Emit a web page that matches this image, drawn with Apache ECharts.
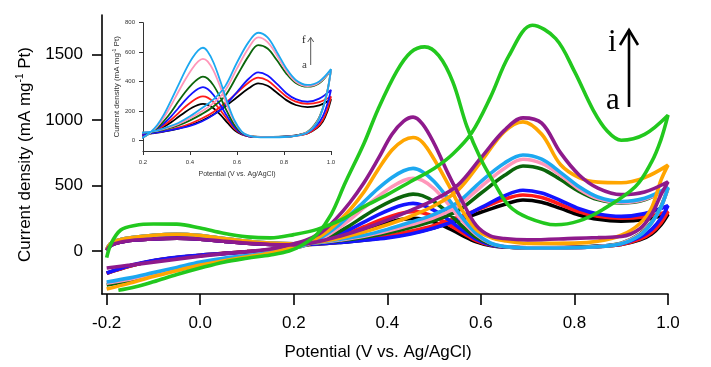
<!DOCTYPE html>
<html>
<head>
<meta charset="utf-8">
<script src="https://cdn.jsdelivr.net/npm/echarts@6/dist/echarts.min.js"></script>
<style>
html,body{margin:0;padding:0;background:#fff;}
#chart{width:711px;height:367px;}
</style>
</head>
<body>
<div id="chart"></div>
<script>
// ---- tick labels ----
const mainXTicks = [-0.2, 0, 0.2, 0.4, 0.6, 0.8, 1.0];
const mainYTicks = [0, 500, 1000, 1500];
const insetXTicks = [0.2, 0.4, 0.6, 0.8, 1.0];
const insetYTicks = [0, 200, 400, 600, 800];

// ---- curve labels and colours ----
const curveNames = ['a', 'b', 'c', 'd', 'e', 'f', 'g', 'h', 'i'];
const curveColors = ['#000000', '#ff1a1a', '#1414ff', '#0b650b', '#ff96b9', '#1ca8f0', '#ffa500', '#8e1a8c', '#22c81e'];

// ---- shared potential grids (V vs. Ag/AgCl) for curves a-h ----
const potF = [-0.2, -0.19, -0.16, -0.1, -0.05, 0, 0.05, 0.1, 0.15, 0.2, 0.25, 0.3, 0.35, 0.4, 0.45, 0.5, 0.55, 0.6, 0.65, 0.69, 0.73, 0.77, 0.81, 0.85, 0.9, 0.95, 1.0];
const potB = [0.985, 0.965, 0.94, 0.9, 0.85, 0.8, 0.7, 0.65, 0.62, 0.59, 0.56, 0.53, 0.5, 0.475, 0.455, 0.435, 0.41, 0.38, 0.35, 0.32, 0.29, 0.26, 0.23, 0.2, 0.15, 0.1, 0.05, 0, -0.05, -0.1, -0.15, -0.2];

// ---- forward scan current densities (mA mg-1 Pt) ----
const aF = [5, 45, 75, 92, 98, 90, 74, 60, 50, 47, 52, 65, 82, 105, 135, 178, 232, 295, 355, 389, 372, 325, 275, 242, 228, 240, 280];
const bF = [5, 45, 75, 92, 98, 90, 74, 60, 50, 47, 54, 68, 88, 115, 150, 195, 255, 325, 395, 427, 408, 355, 300, 265, 250, 262, 300];
const cF = [5, 45, 75, 92, 98, 90, 74, 60, 50, 47, 53, 66, 82, 100, 130, 175, 240, 330, 420, 463, 442, 385, 322, 282, 264, 285, 345];
const dF = [10, 60, 95, 120, 128, 118, 95, 75, 60, 55, 62, 80, 104, 138, 180, 232, 305, 440, 575, 648, 625, 545, 455, 392, 366, 390, 480];
const eF = [10, 60, 95, 120, 128, 118, 95, 75, 60, 55, 64, 85, 112, 152, 200, 255, 340, 490, 630, 700, 668, 578, 472, 400, 370, 395, 480];
const fF = [10, 60, 95, 120, 128, 118, 95, 75, 60, 55, 66, 90, 120, 165, 220, 280, 370, 530, 670, 732, 700, 600, 490, 412, 378, 402, 485];
const gF = [10, 60, 95, 120, 128, 118, 95, 75, 60, 55, 68, 100, 145, 200, 265, 345, 460, 680, 910, 985, 890, 660, 560, 525, 520, 560, 655];
const hF = [5, 45, 75, 92, 98, 90, 74, 60, 50, 47, 70, 115, 170, 235, 310, 390, 500, 710, 920, 1015, 975, 750, 580, 480, 430, 450, 528];

// ---- backward scan current densities ----
const aB = [200, 130, 85, 50, 35, 28, 25, 30, 42, 70, 120, 175, 220, 243, 249, 243, 225, 195, 160, 125, 95, 70, 50, 32, 10, -5, -18, -32, -50, -75, -115, -170];
const bB = [215, 140, 90, 50, 33, 26, 24, 30, 45, 80, 140, 205, 262, 292, 300, 292, 268, 230, 185, 142, 105, 75, 52, 32, 10, -5, -18, -32, -50, -75, -115, -170];
const cB = [250, 165, 105, 55, 35, 27, 24, 30, 48, 90, 160, 240, 310, 350, 363, 352, 322, 275, 220, 165, 118, 80, 52, 30, 8, -8, -20, -32, -48, -72, -110, -168];
const dB = [340, 220, 130, 60, 35, 27, 24, 32, 55, 105, 190, 290, 375, 422, 434, 420, 385, 330, 265, 195, 135, 85, 50, 22, -10, -35, -65, -105, -145, -185, -225, -259];
const eB = [335, 215, 125, 58, 34, 26, 24, 34, 60, 125, 230, 360, 475, 538, 555, 538, 490, 415, 330, 240, 160, 95, 52, 22, -10, -35, -60, -95, -135, -175, -215, -245];
const fB = [335, 215, 120, 55, 32, 25, 23, 34, 62, 135, 255, 400, 530, 605, 630, 612, 560, 475, 375, 275, 180, 105, 55, 22, -12, -35, -55, -85, -125, -165, -205, -236];
const gB = [540, 330, 210, 120, 75, 60, 58, 78, 105, 165, 310, 510, 700, 830, 866, 845, 770, 620, 450, 315, 205, 120, 65, 30, -15, -45, -75, -107, -150, -195, -245, -290];
const hB = [430, 280, 170, 110, 102, 96, 85, 95, 115, 195, 380, 590, 820, 970, 1021, 990, 890, 700, 520, 370, 245, 145, 88, 55, 15, -5, -20, -40, -62, -85, -108, -130];

// ---- curve i (own potential grid) ----
const iPotF = [-0.2, -0.19, -0.17, -0.14, -0.1, -0.05, 0, 0.05, 0.1, 0.15, 0.2, 0.25, 0.3, 0.35, 0.4, 0.45, 0.5, 0.54, 0.58, 0.62, 0.66, 0.71, 0.76, 0.8, 0.84, 0.87, 0.9, 0.95, 1.0];
const iF = [-50, 60, 160, 195, 206, 205, 175, 135, 108, 100, 125, 165, 235, 338, 430, 530, 630, 740, 900, 1170, 1490, 1722, 1620, 1370, 1075, 915, 845, 890, 1036];
const iPotB = [0.985, 0.965, 0.93, 0.86, 0.81, 0.76, 0.7, 0.66, 0.63, 0.6, 0.57, 0.54, 0.51, 0.48, 0.45, 0.42, 0.38, 0.35, 0.31, 0.28, 0.25, 0.22, 0.19, 0.15, 0.1, 0.05, 0, -0.05, -0.1, -0.14, -0.175];
const iB = [850, 680, 490, 315, 230, 200, 255, 345, 510, 700, 950, 1290, 1490, 1557, 1515, 1370, 1080, 820, 520, 280, 130, 50, 0, -30, -55, -85, -130, -180, -235, -275, -300];

// ---- build loops ----
function loop(pf, vf, pb, vb) {
  return pf.map((p, k) => [p, vf[k]]).concat(pb.map((p, k) => [p, vb[k]]));
}
const loops = [
  loop(potF, aF, potB, aB),
  loop(potF, bF, potB, bB),
  loop(potF, cF, potB, cB),
  loop(potF, dF, potB, dB),
  loop(potF, eF, potB, eB),
  loop(potF, fF, potB, fB),
  loop(potF, gF, potB, gB),
  loop(potF, hF, potB, hB),
  loop(iPotF, iF, iPotB, iB)
];

const SANS = '"Liberation Sans", Arial, Helvetica, sans-serif';
const SERIF = '"Liberation Serif", "Times New Roman", serif';

const series = [];
loops.forEach((d, k) => {
  series.push({
    name: curveNames[k], type: 'line', xAxisIndex: 0, yAxisIndex: 0,
    data: d, showSymbol: false, smooth: 0.35, z: 2 + k,
    lineStyle: { color: curveColors[k], width: 3.6 }
  });
});
for (let k = 0; k < 6; k++) {
  series.push({
    name: curveNames[k] + '-inset', type: 'line', xAxisIndex: 1, yAxisIndex: 1,
    data: loops[k], showSymbol: false, smooth: 0.35, z: 20 + k,
    lineStyle: { color: curveColors[k], width: 1.8 }
  });
}

const chart = echarts.init(document.getElementById('chart'), null, { renderer: 'canvas' });
chart.setOption({
  animation: false,
  backgroundColor: '#ffffff',
  grid: [
    { left: 102, right: 43, top: 15, bottom: 73 },
    { left: 143, right: 380, top: 22.7, bottom: 216 }
  ],
  xAxis: [
    {
      type: 'value', gridIndex: 0, min: -0.21, max: 1.0,
      name: 'Potential (V vs. Ag/AgCl)', nameLocation: 'middle', nameGap: 50,
      nameTextStyle: { fontFamily: SANS, fontSize: 17, color: '#000', padding: [0, 14, 0, 0] },
      axisLine: { show: true, onZero: false, lineStyle: { color: '#000', width: 1.6 } },
      axisTick: { show: true, customValues: mainXTicks, length: 11, lineStyle: { color: '#000', width: 1.6 } },
      axisLabel: { customValues: mainXTicks, formatter: v => v.toFixed(1), fontFamily: SANS, fontSize: 17, color: '#000', margin: 21 },
      splitLine: { show: false }
    },
    {
      type: 'value', gridIndex: 1, min: 0.2, max: 1.0,
      name: 'Potential (V vs. Ag/AgCl)', nameLocation: 'middle', nameGap: 20,
      nameTextStyle: { fontFamily: SANS, fontSize: 7, color: '#333' },
      axisLine: { show: true, onZero: false, lineStyle: { color: '#333', width: 1 } },
      axisTick: { show: true, customValues: insetXTicks, length: 4, lineStyle: { color: '#333', width: 1 } },
      axisLabel: { customValues: insetXTicks, formatter: v => v.toFixed(1), fontFamily: SANS, fontSize: 6, color: '#333', margin: 8 },
      splitLine: { show: false }
    }
  ],
  yAxis: [
    {
      type: 'value', gridIndex: 0, min: -328, max: 1800,
      name: 'Current density (mA mg{sup|-1} Pt)', nameLocation: 'middle', nameRotate: 90, nameGap: 58,
      nameTextStyle: {
        fontFamily: SANS, fontSize: 17, color: '#000',
        rich: { sup: { fontFamily: SANS, fontSize: 10, color: '#000', verticalAlign: 'top', padding: [0, 0, 12, 0] } }
      },
      axisLine: { show: true, onZero: false, lineStyle: { color: '#000', width: 1.6 } },
      axisTick: { show: true, customValues: mainYTicks, length: 10, lineStyle: { color: '#000', width: 1.6 } },
      axisLabel: { customValues: mainYTicks, formatter: v => String(v), fontFamily: SANS, fontSize: 17, color: '#000', margin: 19 },
      splitLine: { show: false }
    },
    {
      type: 'value', gridIndex: 1, min: -70, max: 800,
      name: 'Current density (mA mg{sup|-1} Pt)', nameLocation: 'middle', nameRotate: 90, nameGap: 18,
      nameTextStyle: {
        fontFamily: SANS, fontSize: 8, color: '#333',
        rich: { sup: { fontFamily: SANS, fontSize: 5, color: '#333', verticalAlign: 'top', padding: [0, 0, 5, 0] } }
      },
      axisLine: { show: true, onZero: false, lineStyle: { color: '#333', width: 1 } },
      axisTick: { show: true, customValues: insetYTicks, length: 4, lineStyle: { color: '#333', width: 1 } },
      axisLabel: { customValues: insetYTicks, formatter: v => String(v), fontFamily: SANS, fontSize: 6, color: '#333', margin: 8 },
      splitLine: { show: false }
    }
  ],
  graphic: [
    { type: 'text', left: 608, top: 27, style: { text: 'i', font: '31px ' + SERIF, fill: '#000' } },
    { type: 'text', left: 606, top: 85, style: { text: 'a', font: '31px ' + SERIF, fill: '#000' } },
    { type: 'line', shape: { x1: 629, y1: 107, x2: 629, y2: 30 }, style: { stroke: '#000', lineWidth: 2.6 } },
    { type: 'polyline', shape: { points: [[620, 45], [629, 30], [638, 45]] }, style: { stroke: '#000', lineWidth: 2.6, fill: null } },
    { type: 'text', left: 302, top: 35, style: { text: 'f', font: '11px ' + SERIF, fill: '#222' } },
    { type: 'text', left: 302, top: 60, style: { text: 'a', font: '11px ' + SERIF, fill: '#444' } },
    { type: 'line', shape: { x1: 310.7, y1: 65, x2: 310.7, y2: 37.5 }, style: { stroke: '#555', lineWidth: 1 } },
    { type: 'polyline', shape: { points: [[307.7, 42], [310.7, 37.5], [313.7, 42]] }, style: { stroke: '#555', lineWidth: 1, fill: null } }
  ],
  series: series
});
</script>
</body>
</html>
